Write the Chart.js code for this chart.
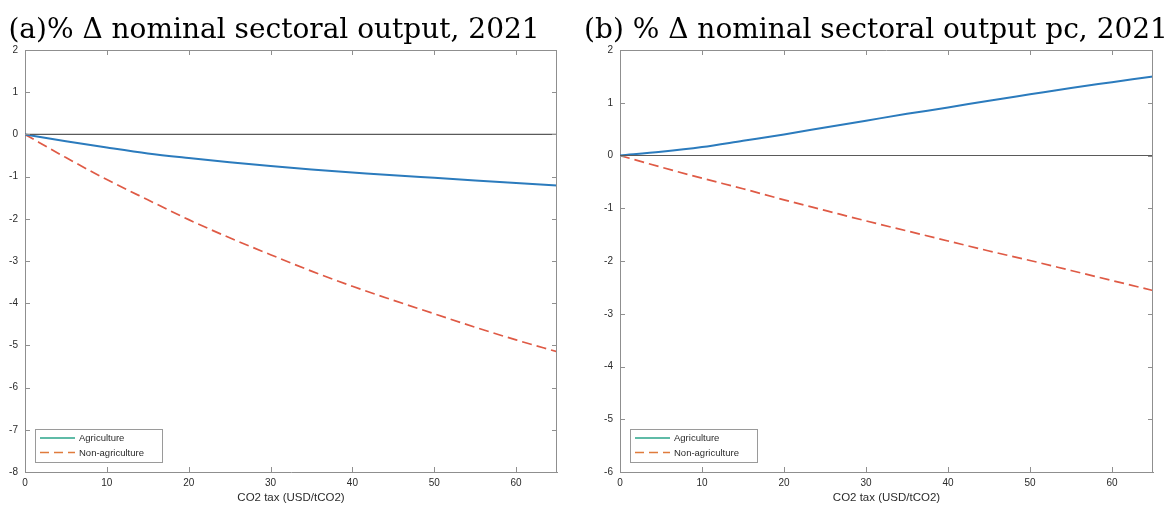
<!DOCTYPE html>
<html>
<head>
<meta charset="utf-8">
<script src="https://cdn.jsdelivr.net/npm/chart.js@4.4.0/dist/chart.umd.min.js"></script>
<style>
  html, body { margin: 0; padding: 0; background: #fff; }
  #wrap { position: relative; width: 1170px; height: 513px; }
  .panel { position: absolute; top: 0; width: 585px; height: 513px; }
</style>
</head>
<body>
<div id="wrap">
  <div class="panel" style="left:0"><canvas id="grafico-a"></canvas></div>
  <div class="panel" style="left:585px"><canvas id="grafico-b"></canvas></div>
</div>
<script>
// CO2 tax (USD/tCO2)
const taxa = [0, 5, 10, 15, 20, 25, 30, 35, 40, 45, 50, 55, 60, 65];

// (a) % change nominal sectoral output
const agriA    = [0, -0.16, -0.31, -0.45, -0.56, -0.66, -0.75, -0.83, -0.90, -0.97, -1.03, -1.09, -1.15, -1.21];
const naoAgriA = [0, -0.55, -1.07, -1.55, -2.02, -2.45, -2.85, -3.24, -3.60, -3.93, -4.25, -4.57, -4.87, -5.15];

// (b) % change nominal sectoral output per capita
const agriB    = [0, 0.07, 0.16, 0.28, 0.40, 0.53, 0.66, 0.79, 0.91, 1.04, 1.16, 1.28, 1.39, 1.50];
const naoAgriB = [0, -0.22, -0.43, -0.63, -0.84, -1.04, -1.24, -1.43, -1.62, -1.81, -1.99, -2.18, -2.37, -2.56];

const zeroLinha = [0, 0];
const zeroX = [0, 65];

const legendaNomes = ['Agriculture', 'Non-agriculture'];
const legendaCores = ['#2aa58a', '#e07b3c'];

const corEixo = '#8f8f8f';
const corTexto = '#2b2b2b';

function pontos(xs, ys) {
  return xs.map((x, i) => ({ x: x, y: ys[i] }));
}

// box, inward ticks, legend and title, MATLAB style
const estiloMatlab = {
  id: 'estiloMatlab',
  afterDraw(chart, args, opts) {
    const ctx = chart.ctx;
    const a = chart.chartArea;
    const sx = chart.scales.x, sy = chart.scales.y;
    ctx.save();
    ctx.strokeStyle = corEixo;
    ctx.lineWidth = 1;
    ctx.beginPath();
    ctx.moveTo(a.left, a.top + 0.5); ctx.lineTo(a.right, a.top + 0.5);
    ctx.moveTo(a.right - 0.5, a.top); ctx.lineTo(a.right - 0.5, a.bottom);
    sx.ticks.forEach(t => {
      const px = Math.round(sx.getPixelForValue(t.value)) + 0.5;
      ctx.moveTo(px, a.bottom); ctx.lineTo(px, a.bottom - 5);
      ctx.moveTo(px, a.top); ctx.lineTo(px, a.top + 5);
    });
    sy.ticks.forEach(t => {
      const py = Math.round(sy.getPixelForValue(t.value)) + 0.5;
      ctx.moveTo(a.left, py); ctx.lineTo(a.left + 5, py);
      ctx.moveTo(a.right, py); ctx.lineTo(a.right - 5, py);
    });
    ctx.stroke();

    // legenda
    const lx = a.left + 10, ly = a.bottom - 43, lw = 127, lh = 33;
    ctx.fillStyle = '#fff';
    ctx.fillRect(lx, ly, lw, lh);
    ctx.strokeStyle = '#9a9a9a';
    ctx.strokeRect(lx + 0.5, ly + 0.5, lw, lh);
    ctx.font = '9.5px "Liberation Sans", Arial, sans-serif';
    ctx.textBaseline = 'middle';
    legendaNomes.forEach((nome, i) => {
      const y = ly + 9 + i * 14.5;
      ctx.strokeStyle = legendaCores[i];
      ctx.lineWidth = 1.6;
      ctx.setLineDash(i === 1 ? [9, 5] : []);
      ctx.beginPath();
      ctx.moveTo(lx + 5, y); ctx.lineTo(lx + 40, y);
      ctx.stroke();
      ctx.setLineDash([]);
      ctx.fillStyle = corTexto;
      ctx.fillText(nome, lx + 44, y + 0.5);
    });

    // titulo
    ctx.font = '28px "DejaVu Serif", serif';
    ctx.fillStyle = '#000';
    ctx.textAlign = 'center';
    ctx.textBaseline = 'alphabetic';
    ctx.fillText(opts.texto, opts.cx, 38);
    ctx.restore();
  }
};

function criarGrafico(id, titulo, tituloX, agri, naoAgri, yMin, padEsq, padDir) {
  const ctx = document.getElementById(id).getContext('2d');
  return new Chart(ctx, {
    type: 'line',
    data: {
      datasets: [
        {
          label: 'zero',
          data: pontos(zeroX, zeroLinha),
          borderColor: '#5a5a5a',
          borderWidth: 1.2,
          pointRadius: 0
        },
        {
          label: legendaNomes[0],
          data: pontos(taxa, agri),
          borderColor: '#2b7bbd',
          borderWidth: 2,
          pointRadius: 0,
          cubicInterpolationMode: 'monotone'
        },
        {
          label: legendaNomes[1],
          data: pontos(taxa, naoAgri),
          borderColor: '#df5a45',
          borderWidth: 1.7,
          borderDash: [10, 5],
          pointRadius: 0,
          cubicInterpolationMode: 'monotone'
        }
      ]
    },
    options: {
      responsive: false,
      animation: false,
      events: [],
      layout: { padding: { top: 50, right: padDir, left: 0, bottom: 0 } },
      plugins: {
        legend: { display: false },
        tooltip: { enabled: false },
        estiloMatlab: { texto: titulo, cx: tituloX }
      },
      scales: {
        x: {
          type: 'linear',
          min: 0,
          max: 65,
          grid: { display: false, drawTicks: false },
          border: { color: corEixo, width: 1 },
          ticks: {
            stepSize: 10,
            includeBounds: false,
            padding: 5,
            maxRotation: 0,
            color: corTexto,
            font: { family: '"Liberation Sans", Arial, sans-serif', size: 10 }
          },
          title: {
            display: true,
            text: 'CO2 tax (USD/tCO2)',
            color: corTexto,
            padding: { top: 0, bottom: 8 },
            font: { family: '"Liberation Sans", Arial, sans-serif', size: 11.5 }
          },
          afterFit: s => { s.height = 41; }
        },
        y: {
          min: yMin,
          max: 2,
          grid: { display: false, drawTicks: false },
          border: { color: corEixo, width: 1 },
          ticks: {
            stepSize: 1,
            padding: 7,
            color: corTexto,
            font: { family: '"Liberation Sans", Arial, sans-serif', size: 10 }
          },
          afterFit: s => { s.width = padEsq; }
        }
      }
    },
    plugins: [estiloMatlab]
  });
}

function prepararCanvas(id) {
  const c = document.getElementById(id);
  c.width = 585; c.height = 513;
  c.style.width = '585px'; c.style.height = '513px';
}

window.addEventListener('load', () => {
  prepararCanvas('grafico-a');
  prepararCanvas('grafico-b');
  criarGrafico('grafico-a', '(a)% \u0394 nominal sectoral output, 2021', 274, agriA, naoAgriA, -8, 25, 28);
  criarGrafico('grafico-b', '(b) % \u0394 nominal sectoral output pc, 2021', 291, agriB, naoAgriB, -6, 35, 17);
});
</script>
</body>
</html>
